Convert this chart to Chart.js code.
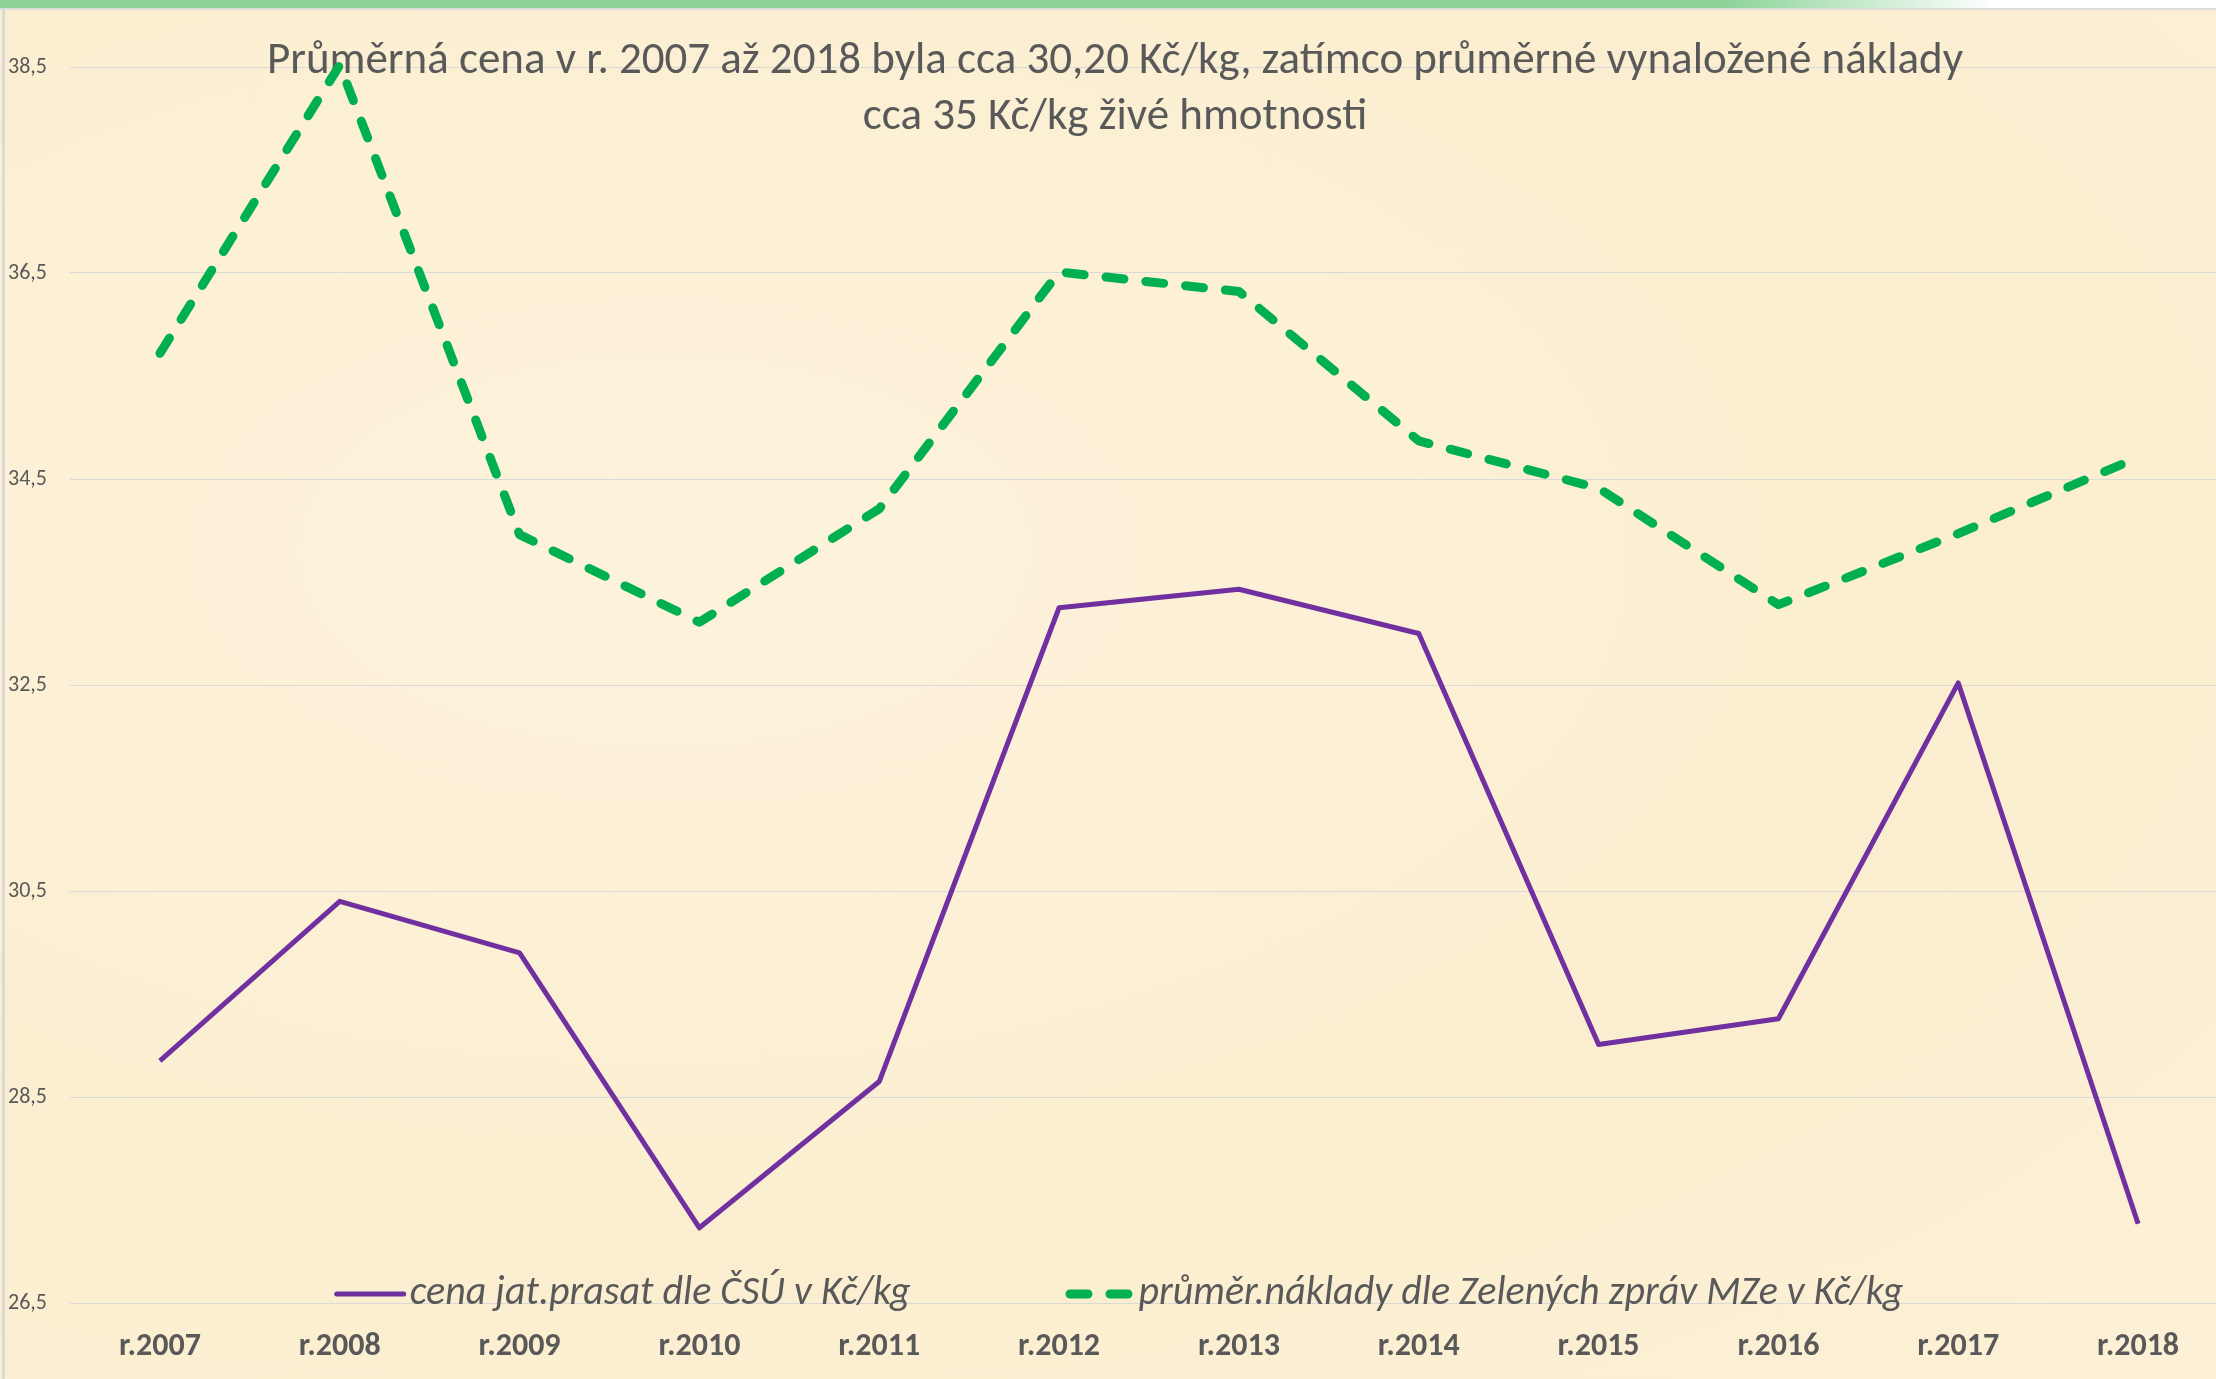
<!DOCTYPE html>
<html lang="cs">
<head>
<meta charset="utf-8">
<title>Cena jatečných prasat a náklady</title>
<script src="https://cdn.jsdelivr.net/npm/chart.js@4/dist/chart.umd.min.js"></script>
<style>
  html, body { margin: 0; padding: 0; overflow: hidden; background: #fcefd3; }
  #wrap { position: relative; width: 2216px; height: 1379px; overflow: hidden;
          background: radial-gradient(ellipse at 30% 40%, #fdf3dc 0%, #fbeed0 60%, #fcf0d6 100%); }
  #strip { position: absolute; left: 0; top: 0; width: 2216px; height: 8px;
           background: linear-gradient(to right, #8ed49a 0%, #8ed49a 78%, #d8f0dc 86%, #ffffff 90%); }
  #stripLine { position: absolute; left: 0; top: 8px; width: 2216px; height: 2px; background: #dcdcdc; }
  #leftLine { position: absolute; left: 2px; top: 8px; width: 3px; height: 1371px; background: #d9d9d9; }
  canvas { position: absolute; left: 0; top: 0; }
</style>
</head>
<body>
<div id="wrap">
  <canvas id="chart" width="2228" height="1379"></canvas>
  <div id="strip"></div>
  <div id="stripLine"></div>
  <div id="leftLine"></div>
</div>
<script>
// data
const years = ['r.2007', 'r.2008', 'r.2009', 'r.2010', 'r.2011', 'r.2012',
               'r.2013', 'r.2014', 'r.2015', 'r.2016', 'r.2017', 'r.2018'];
const cenaCSU = [28.85, 30.40, 29.90, 27.23, 28.65, 33.25, 33.43, 33.00, 29.01, 29.26, 32.52, 27.27];
const nakladyMZe = [35.72, 38.52, 33.96, 33.11, 34.21, 36.51, 36.32, 34.87, 34.41, 33.28, 33.97, 34.71];
const seriesNames = ['cena jat.prasat dle ČSÚ v Kč/kg', 'průměr.náklady dle Zelených zpráv MZe v Kč/kg'];
const titleLines = ['Průměrná cena v r. 2007 až 2018 byla cca 30,20 Kč/kg, zatímco průměrné vynaložené náklady',
                    'cca 35 Kč/kg živé hmotnosti'];
const yMin = 26.5, yMax = 38.5, yStep = 2;

const FONT = "Carlito, Lato, 'Open Sans', sans-serif";
const TEXT = '#595959';

// title sits on top of the plot area, like in the original
const overlayTitle = {
  id: 'overlayTitle',
  beforeDatasetsDraw(chart) {
    const ctx = chart.ctx;
    ctx.save();
    ctx.font = '45px ' + FONT;
    ctx.fillStyle = TEXT;
    ctx.textAlign = 'center';
    ctx.textBaseline = 'middle';
    titleLines.forEach((line, i) => ctx.fillText(line, 1115, 62 + i * 56));
    ctx.restore();
  }
};

// legend drawn inside the plot, just above the bottom gridline
const innerLegend = {
  id: 'innerLegend',
  afterDatasetsDraw(chart) {
    const ctx = chart.ctx;
    const y = 1294;
    const sampleLen = 67, sampleGap = 6, itemGap = 155;
    ctx.save();
    ctx.font = 'italic 40px ' + FONT;
    const widths = chart.data.datasets.map(ds => ctx.measureText(ds.label).width);
    const total = widths.reduce((a, w) => a + w + sampleLen + sampleGap, 0) + itemGap * (widths.length - 1);
    let x = 1120 - total / 2;
    chart.data.datasets.forEach((ds, i) => {
      ctx.beginPath();
      ctx.strokeStyle = ds.borderColor;
      ctx.lineWidth = ds.borderWidth;
      ctx.lineCap = 'round';
      ctx.setLineDash(ds.borderDash || []);
      const cap = ds.borderDash ? ds.borderWidth / 2 : 0;
      ctx.moveTo(x + cap, y);
      ctx.lineTo(x + sampleLen - cap, y);
      ctx.stroke();
      ctx.setLineDash([]);
      ctx.fillStyle = TEXT;
      ctx.textAlign = 'left';
      ctx.textBaseline = 'middle';
      ctx.fillText(ds.label, x + sampleLen + sampleGap, y);
      x += sampleLen + sampleGap + widths[i] + itemGap;
    });
    ctx.restore();
  }
};

Chart.defaults.font.family = FONT;
Chart.defaults.color = TEXT;

new Chart(document.getElementById('chart'), {
  type: 'line',
  data: {
    labels: years,
    datasets: [
      {
        label: seriesNames[0],
        data: cenaCSU,
        borderColor: '#7030a0',
        borderWidth: 5,
        pointRadius: 0,
        tension: 0,
        borderJoinStyle: 'round',
        clip: false
      },
      {
        label: seriesNames[1],
        data: nakladyMZe,
        borderColor: '#00b050',
        borderWidth: 9,
        borderDash: [18, 22],
        borderCapStyle: 'round',
        borderJoinStyle: 'round',
        pointRadius: 0,
        tension: 0,
        clip: false
      }
    ]
  },
  options: {
    responsive: false,
    animation: false,
    layout: { padding: { top: 67, left: 8, right: 0, bottom: 0 } },
    plugins: {
      legend: { display: false },
      title: { display: false },
      tooltip: { enabled: false }
    },
    scales: {
      x: {
        offset: true,
        grid: { display: false, drawTicks: false },
        border: { display: false },
        ticks: { font: { size: 32, weight: 'bold' }, color: TEXT, padding: 25, maxRotation: 0 },
        afterFit: s => { s.height = 76; s.paddingLeft = 0; s.paddingRight = 0; }
      },
      y: {
        min: yMin,
        max: yMax,
        grid: { color: '#d9d9d9', lineWidth: 1, drawTicks: false },
        border: { display: false },
        ticks: {
          stepSize: yStep,
          font: { size: 22 },
          color: TEXT,
          crossAlign: 'far',
          padding: 10,
          callback: v => v.toFixed(1).replace('.', ',')
        },
        afterFit: s => { s.width = 62; }
      }
    }
  },
  plugins: [overlayTitle, innerLegend]
});
</script>
</body>
</html>
